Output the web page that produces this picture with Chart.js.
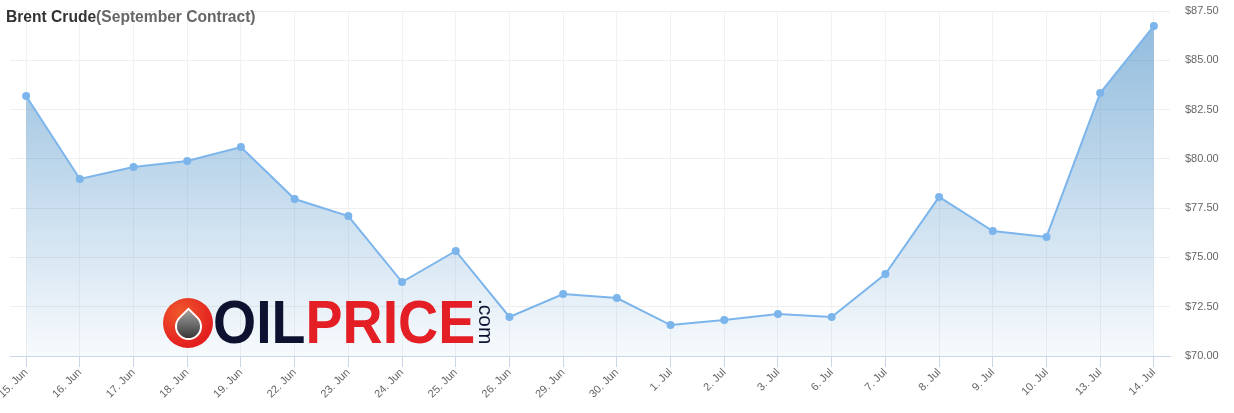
<!DOCTYPE html>
<html>
<head>
<meta charset="utf-8">
<script src="https://cdn.jsdelivr.net/npm/chart.js@4"></script>
<style>
    html, body { margin: 0; padding: 0; background: #fff; }
    #wrap { position: relative; width: 1234px; height: 413px; }
    #title {
        position: absolute; left: 6px; top: 8px;
        font-family: "Liberation Sans", Arial, sans-serif;
        font-weight: bold; font-size: 15.6px; color: #333;
        white-space: nowrap;
    }
    #title span { color: #666; }
    #logo { position: absolute; left: 163px; top: 298px; height: 52px; width: 340px; }
    #logo .ball {
        position: absolute; left: 0; top: 0; width: 50px; height: 50px; border-radius: 50%;
        background: radial-gradient(circle at 35% 30%, #f0582c, #e3201f 70%);
    }
    #logo .drop {
        position: absolute; left: 12px; top: 15px; width: 23px; height: 23px;
        border: 2px solid #fff;
        border-radius: 0 50% 50% 50%;
        transform: rotate(45deg);
        background: linear-gradient(-45deg, #262626, #a0a0a0);
    }
    #logo .word {
        position: absolute; left: 50px; top: -6px;
        font-family: "Liberation Sans", Arial, sans-serif;
        font-weight: bold; font-size: 61px; line-height: 1;
        transform: scaleX(0.91); transform-origin: left top;
        white-space: nowrap;
    }
    #logo .oil { color: #0e1230; }
    #logo .price { color: #e31e24; }
    #logo .com {
        position: absolute; left: 334px; top: 1px;
        font-family: "Liberation Sans", Arial, sans-serif;
        font-size: 21px; line-height: 1; color: #0e1230;
        transform: rotate(90deg); transform-origin: left top;
        white-space: nowrap;
    }
</style>
</head>
<body>
<div id="wrap">
    <canvas id="myChart" width="1234" height="413"></canvas>
    <div id="title">Brent Crude<span>(September Contract)</span></div>
    <div id="logo">
        <div class="ball"><div class="drop"></div></div>
        <div class="word"><span class="oil">OIL</span><span class="price">PRICE</span></div>
        <div class="com">.com</div>
    </div>
</div>
<script>
const dates = ['15. Jun', '16. Jun', '17. Jun', '18. Jun', '19. Jun', '22. Jun', '23. Jun', '24. Jun',
    '25. Jun', '26. Jun', '29. Jun', '30. Jun', '1. Jul', '2. Jul', '3. Jul', '6. Jul', '7. Jul',
    '8. Jul', '9. Jul', '10. Jul', '13. Jul', '14. Jul'];
const prices = [83.19, 78.98, 79.59, 79.89, 80.60, 77.96, 77.10, 73.75, 75.33, 71.98, 73.14,
    72.94, 71.57, 71.83, 72.13, 71.98, 74.16, 78.07, 76.34, 76.04, 83.34, 86.74];
const yTicks = [70, 72.5, 75, 77.5, 80, 82.5, 85, 87.5];

const points = dates.map((d, i) => ({ x: i, y: prices[i] }));

function areaFill(context) {
    const area = context.chart.chartArea;
    if (!area) return 'rgba(60,135,195,0.3)';
    const g = context.chart.ctx.createLinearGradient(0, area.top, 0, area.bottom);
    g.addColorStop(0, 'rgba(60,135,195,0.58)');
    g.addColorStop(1, 'rgba(60,135,195,0.04)');
    return g;
}

const ctx = document.getElementById('myChart');
const myChart = new Chart(ctx, {
    type: 'line',
    data: {
        datasets: [{
            data: points,
            borderColor: '#7cb5ec',
            borderWidth: 2,
            backgroundColor: areaFill,
            fill: 'start',
            pointRadius: 4,
            pointBackgroundColor: '#7cb5ec',
            pointBorderWidth: 0,
            tension: 0
        }]
    },
    options: {
        responsive: false,
        animation: false,
        layout: { padding: { left: 10, top: 11, right: 0, bottom: 0 } },
        plugins: {
            legend: { display: false },
            tooltip: { enabled: false }
        },
        scales: {
            x: {
                type: 'linear',
                min: -0.3,
                max: 21.3,
                afterFit: function(scale) {
                    scale.height = 57;
                    scale.paddingLeft = 0;
                    scale.paddingRight = 0;
                    scale.paddingTop = 0;
                    scale.paddingBottom = 0;
                },
                grid: {
                    color: '#f2f2f2',
                    tickColor: '#ccd6eb',
                    tickLength: 11
                },
                border: { color: '#ccd6eb', width: 1 },
                ticks: {
                    stepSize: 1,
                    includeBounds: false,
                    autoSkip: false,
                    minRotation: 45,
                    maxRotation: 45,
                    padding: -1,
                    color: '#666',
                    font: { family: 'Liberation Sans', size: 11 },
                    callback: function(value) {
                        return dates[value];
                    }
                }
            },
            y: {
                position: 'right',
                min: 70,
                max: 87.5,
                afterFit: function(scale) {
                    scale.width = 64;
                    scale.paddingTop = 0;
                    scale.paddingBottom = 0;
                },
                afterBuildTicks: function(scale) {
                    scale.ticks = yTicks.map(v => ({ value: v }));
                },
                grid: { color: '#efefef', drawTicks: false },
                border: { display: false },
                ticks: {
                    padding: 15,
                    color: '#666',
                    font: { family: 'Liberation Sans', size: 11 },
                    callback: function(value) {
                        return '$' + value.toFixed(2);
                    }
                }
            }
        }
    }
});
</script>
</body>
</html>
